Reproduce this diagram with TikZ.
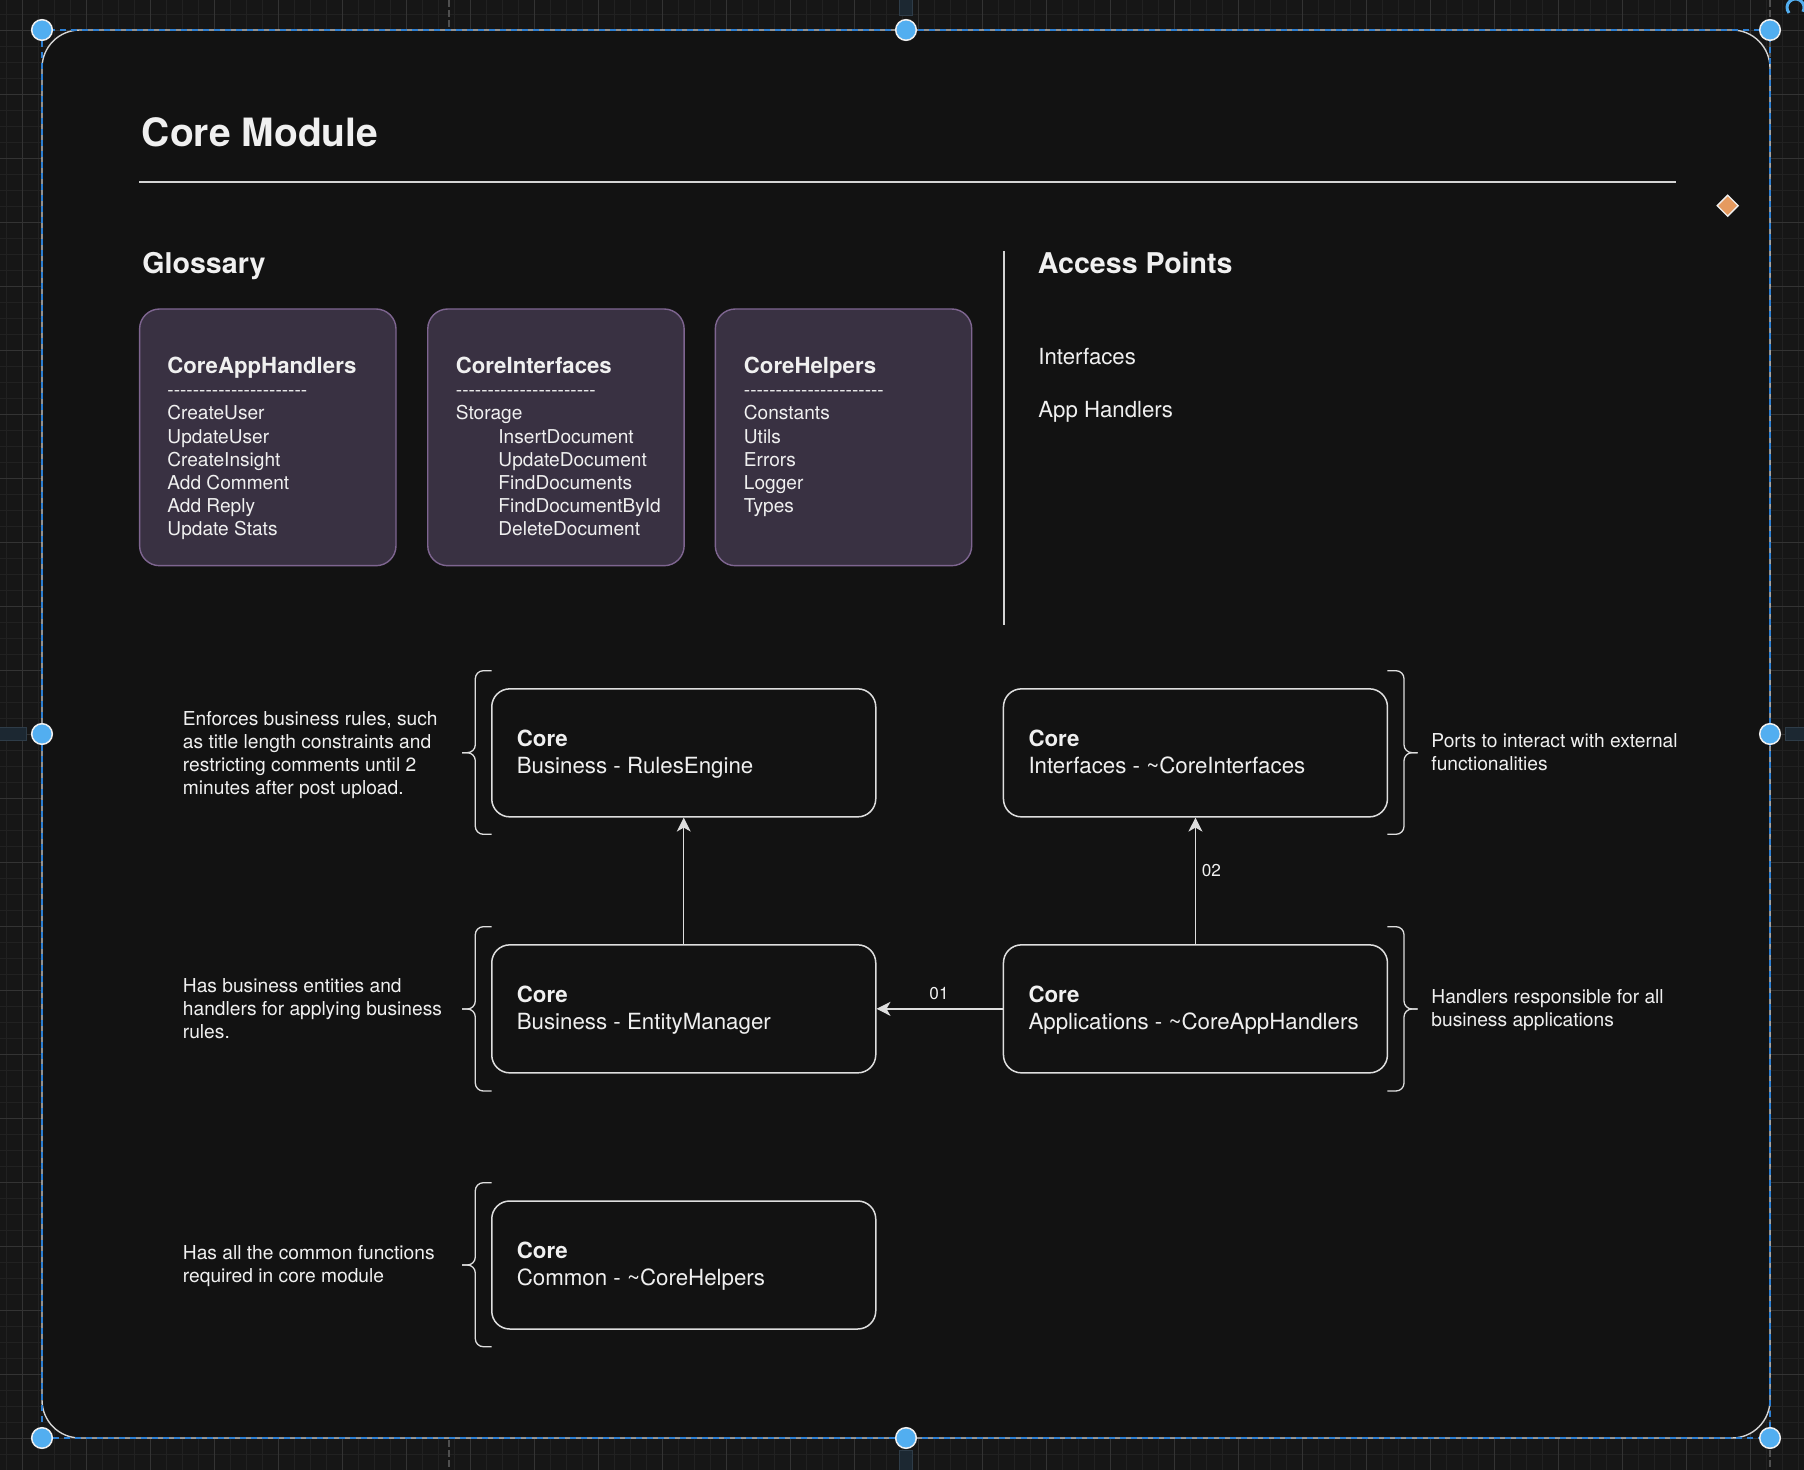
\documentclass[tikz,border=0pt]{standalone}
\usepackage{fontspec}
\setmainfont{TeX Gyre Heros}
\usetikzlibrary{arrows.meta,calc}

\definecolor{canvasbg}{HTML}{161616}
\definecolor{gridminor}{HTML}{212121}
\definecolor{gridmajor}{HTML}{333333}
\definecolor{panelbg}{HTML}{121212}
\definecolor{panelline}{HTML}{D4D4D4}
\definecolor{ink}{HTML}{F0F0F0}
\definecolor{glossfill}{HTML}{393142}
\definecolor{glossline}{HTML}{7E6590}
\definecolor{boxline}{HTML}{DEDEDE}
\definecolor{selblue}{HTML}{2C7FD3}
\definecolor{handlefill}{HTML}{52AEF0}
\definecolor{guide}{HTML}{4F4F4F}
\definecolor{tabfill}{HTML}{1C2832}
\definecolor{tabline}{HTML}{2E3C48}
\definecolor{accent}{HTML}{E59A5F}

% lines of text whose first baseline is the box baseline
\newcommand\txtstack[1]{\vtop{\halign{##\hfil\cr#1\crcr}}}
% a hyphen that never joins its neighbour into a dash ligature
\newcommand\hy{-\kern0pt\relax}
\newcommand\hyrow{\hy\hy\hy\hy\hy\hy\hy\hy\hy\hy\hy\hy\hy\hy\hy\hy\hy\hy\hy\hy\hy\hy}
% curly bracket: open end x, spine x, tip x, top y, tip y, bottom y
\newcommand\curlybrk[6]{%
  \draw[brk] (#1,#4) -- (#2,#4) -- (#2,#5) -- (#3,#5);
  \draw[brk] (#1,#6) -- (#2,#6) -- (#2,#5) -- (#3,#5);}

\tikzset{
  txt/.style={inner sep=0pt, anchor=base west, text=ink},
  heading/.style={txt, font=\fontsize{14.3}{16}\selectfont\bfseries},
  gloss/.style={draw=glossline, fill=glossfill, line width=0.7pt, rounded corners=10pt,
    minimum width=128.2pt, minimum height=128.35pt, inner sep=0pt},
  glosstitle/.style={txt, font=\fontsize{11.1}{13}\selectfont\bfseries},
  glossitems/.style={txt, font=\fontsize{9.55}{11.6}\selectfont},
  access/.style={txt, font=\fontsize{11.1}{13}\selectfont},
  corebox/.style={draw=boxline, line width=0.75pt, rounded corners=9pt,
    minimum width=192pt, minimum height=64pt, inner sep=0pt},
  coretext/.style={txt, font=\fontsize{11.15}{13.5}\selectfont},
  note/.style={txt, font=\fontsize{9.6}{11.5}\selectfont},
  link/.style={draw=boxline, line width=0.65pt, -{Stealth[length=7pt,width=7pt,inset=2pt]}},
  linklabel/.style={inner sep=0pt, text=ink, font=\fontsize{8.6}{10}\selectfont},
  brk/.style={draw=boxline, line width=0.65pt, rounded corners=4pt},
  gridthin/.style={draw=gridminor, line width=0.5pt},
  gridthick/.style={draw=gridmajor, line width=0.5pt},
  guideline/.style={draw=guide, line width=0.6pt, dash pattern=on 3.5pt off 1.5pt},
  hovertab/.style={fill=tabfill, draw=tabline, line width=0.5pt},
  selframe/.style={draw=selblue, line width=0.8pt, dash pattern=on 3pt off 2.5pt},
  handle/.style={fill=handlefill, draw=ink, line width=0.75pt},
}

\begin{document}
\begin{tikzpicture}[x=0.5pt, y=-0.5pt]
\useasboundingbox (0,0) rectangle (1804,1470);
\clip (0,0) rectangle (1804,1470);

% canvas and grid
\fill[canvasbg] (0,0) rectangle (1804,1470);
\foreach \k in {0,...,112} \draw[gridthin] ({6.3+16*\k},0) -- ({6.3+16*\k},1470);
\foreach \k in {0,...,91} \draw[gridthin] (0,{14.3+16*\k}) -- (1804,{14.3+16*\k});
\foreach \k in {0,...,27} \draw[gridthick] ({22.3+64*\k},0) -- ({22.3+64*\k},1470);
\foreach \k in {0,...,22} \draw[gridthick] (0,{30.3+64*\k}) -- (1804,{30.3+64*\k});

% alignment guides
\draw[guideline] (449,0) -- (449,1470);
\draw[guideline] (1770,0) -- (1770,1470);

% hover tabs around the selection
\draw[hovertab] (-5,727.3) rectangle (26.7,740.7);
\draw[hovertab] (1785.3,727.3) rectangle (1810,740.7);
\draw[hovertab] (899.3,-5) rectangle (912.7,16);
\draw[hovertab] (899.3,1450.7) rectangle (912.7,1480);

% module panel
\draw[fill=panelbg, draw=panelline, line width=0.7pt, rounded corners=19pt]
  (42,30) rectangle (1770,1438);

% header
\node[txt, font=\fontsize{19.5}{23}\selectfont\bfseries] (title) at (141.5,146.7) {Core Module};
\draw[draw=panelline, line width=1pt] (139.3,181.7) -- (1675.7,181.7);
\draw[fill=accent, draw=ink, line width=0.65pt]
  (1727.7,195.2) -- (1738.2,205.7) -- (1727.7,216.2) -- (1717.2,205.7) -- cycle;

% glossary
\node[heading] (glossary) at (142,274) {Glossary};
\node[gloss] (g1) at (267.8,437.35) {};
\node[gloss] (g2) at (555.95,437.35) {};
\node[gloss] (g3) at (843.5,437.35) {};

\node[glosstitle] (g1t) at (167,374) {CoreAppHandlers};
\node[glossitems] (g1i) at (167,396.8) {\txtstack{\hyrow\cr CreateUser\cr UpdateUser\cr CreateInsight\cr Add Comment\cr Add Reply\cr Update Stats}};

\node[glosstitle] (g2t) at (455.5,374) {CoreInterfaces};
\node[glossitems] (g2i) at (455.5,396.8) {\txtstack{\hyrow\cr Storage\cr
  \hspace*{21.25pt}InsertDocument\cr \hspace*{21.25pt}UpdateDocument\cr
  \hspace*{21.25pt}FindDocuments\cr \hspace*{21.25pt}FindDocumentById\cr
  \hspace*{21.25pt}DeleteDocument}};

\node[glosstitle] (g3t) at (743.5,374) {CoreHelpers};
\node[glossitems] (g3i) at (743.5,396.8) {\txtstack{\hyrow\cr Constants\cr Utils\cr Errors\cr Logger\cr Types}};

% access points
\draw[draw=panelline, line width=0.75pt] (1004.2,251) -- (1004.2,625);
\node[heading] (access) at (1037.5,274) {Access Points};
\node[access] (ap1) at (1038,364.3) {Interfaces};
\node[access] (ap2) at (1038,417.3) {App Handlers};

% layers
\node[corebox] (re) at (683.75,752.85) {};
\node[corebox] (em) at (683.75,1008.85) {};
\node[corebox] (cm) at (683.75,1265) {};
\node[corebox] (if) at (1195.45,752.85) {};
\node[corebox] (ah) at (1195.45,1008.85) {};

\node[coretext] (re-t) at ($(re.west)+(25.4,-6.55)$) {\txtstack{\bfseries Core\cr Business - RulesEngine}};
\node[coretext] (em-t) at ($(em.west)+(25.4,-6.55)$) {\txtstack{\bfseries Core\cr Business - EntityManager}};
\node[coretext] (cm-t) at ($(cm.west)+(25.4,-6.55)$) {\txtstack{\bfseries Core\cr Common - \textasciitilde CoreHelpers}};
\node[coretext] (if-t) at ($(if.west)+(25.4,-6.55)$) {\txtstack{\bfseries Core\cr Interfaces - \textasciitilde CoreInterfaces}};
\node[coretext] (ah-t) at ($(ah.west)+(25.4,-6.55)$) {\txtstack{\bfseries Core\cr Applications - \textasciitilde CoreAppHandlers}};

% dependencies
\draw[link] (em.north) -- (re.south);
\draw[link] (ah.west) -- (em.east);
\draw[link] (ah.north) -- (if.south);
\node[linklabel] (l01) at (939,993.3) {01};
\node[linklabel, anchor=west] (l02) at (1201.5,870.7) {02};

% brackets
\curlybrk{491.5}{475.3}{462}{670.7}{752.7}{834.3}
\curlybrk{491.5}{475.3}{462}{926.7}{1009}{1091}
\curlybrk{491.5}{475.3}{462}{1182.7}{1265}{1346.7}
\curlybrk{1387.4}{1404}{1417.5}{670.7}{752.7}{834.3}
\curlybrk{1387.4}{1404}{1417.5}{926.7}{1009}{1091}

% notes
\node[note] (n1) at (182.5,725) {\txtstack{Enforces business rules, such\cr as title length constraints and\cr restricting comments until 2\cr minutes after post upload.}};
\node[note] (n2) at (182.5,992.5) {\txtstack{Has business entities and\cr handlers for applying business\cr rules.}};
\node[note] (n3) at (182.5,1259.2) {\txtstack{Has all the common functions\cr required in core module}};
\node[note] (n4) at (1431,747) {\txtstack{Ports to interact with external\cr functionalities}};
\node[note] (n5) at (1431,1003.2) {\txtstack{Handlers responsible for all\cr business applications}};

% selection frame and handles
\draw[selframe] (42,30) rectangle (1770,1438);
\foreach \p in {(42,30),(906,30),(1770,30),(42,734),(1770,734),(42,1438),(906,1438),(1770,1438)}
  \draw[handle] \p circle[radius=5.15pt];
\draw[draw=handlefill, line width=1.5pt] (1795.5,7.5) ++(140:8.5) arc[start angle=140, end angle=390, radius=8.5];
\end{tikzpicture}
\end{document}
